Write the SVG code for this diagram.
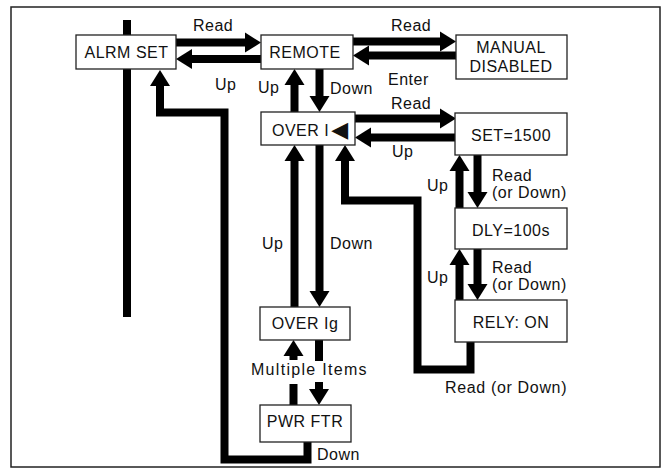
<svg xmlns="http://www.w3.org/2000/svg" width="663" height="470" viewBox="0 0 663 470">
<style>
  .box { fill: #fff; stroke: #222; stroke-width: 1.3; }
  .t { font-family: "Liberation Sans", Arial, sans-serif; font-size: 16px; fill: #111; letter-spacing: 0.5px; }
  .c { text-anchor: middle; }
  .w { fill: none; stroke: #000; stroke-width: 8; stroke-linecap: butt; stroke-linejoin: miter; }
  .wa { fill: none; stroke: #000; stroke-width: 8; stroke-linecap: butt; stroke-linejoin: miter; marker-end: url(#ah); }
</style>
<defs>
  <marker id="ah" markerUnits="userSpaceOnUse" markerWidth="16" markerHeight="20" refX="0" refY="10" orient="auto" overflow="visible">
    <path d="M0,0 L16,10 L0,20 Z" fill="#000"/>
  </marker>
</defs>
<rect x="0" y="0" width="663" height="470" fill="#fff"/>
<rect x="11" y="7" width="649" height="460" fill="none" stroke="#222" stroke-width="1.5"/>

<g id="connectors">
  <line class="w" x1="127" y1="20" x2="127" y2="317"/>
  <path class="wa" d="M176,42.5 H245"/>
  <path class="wa" d="M261,59 H192"/>
  <path class="wa" d="M353,41.5 H440"/>
  <path class="wa" d="M456,55.5 H369"/>
  <path class="wa" d="M294.5,112 V85"/>
  <path class="wa" d="M319.5,69 V96"/>
  <path class="wa" d="M355,118.5 H440"/>
  <path class="wa" d="M455,137.5 H371"/>
  <path class="wa" d="M459.5,208 V171"/>
  <path class="wa" d="M477.5,155 V192"/>
  <path class="wa" d="M459.5,300 V265"/>
  <path class="wa" d="M477.5,249 V284"/>
  <path class="wa" d="M470.5,342 V369.5 H417.5 V200.5 H345 V161"/>
  <path class="wa" d="M294.5,307 V161"/>
  <path class="wa" d="M319.5,145 V291"/>
  <path class="w" d="M293.5,405 V384"/>
  <path class="wa" d="M293.5,360 V356"/>
  <path class="w" d="M319,340 V361"/>
  <path class="wa" d="M319,382 V389"/>
  <path class="wa" d="M307.5,442 V459.5 H224.5 V112.5 H160 V86"/>
</g>

<g id="labels">
  <text class="t" x="193" y="31">Read</text>
  <text class="t" x="215" y="90">Up</text>
  <text class="t" x="258" y="93">Up</text>
  <text class="t" x="330" y="94">Down</text>
  <text class="t" x="391" y="31">Read</text>
  <text class="t" x="388" y="85">Enter</text>
  <text class="t" x="391" y="109">Read</text>
  <text class="t" x="392" y="157">Up</text>
  <text class="t" x="427" y="191">Up</text>
  <text class="t" x="492" y="181">Read</text>
  <text class="t" x="492" y="198">(or Down)</text>
  <text class="t" x="427" y="283">Up</text>
  <text class="t" x="492" y="273">Read</text>
  <text class="t" x="492" y="290">(or Down)</text>
  <text class="t" x="262" y="249">Up</text>
  <text class="t" x="330" y="249">Down</text>
  <text class="t" x="251" y="375" textLength="116">Multiple Items</text>
  <text class="t" x="445" y="393" textLength="122">Read (or Down)</text>
  <text class="t" x="317" y="460">Down</text>
</g>

<g id="alrm-set">
  <rect class="box" x="76" y="35" width="100" height="34"/>
  <text class="t c" x="126.5" y="58">ALRM SET</text>
</g>
<g id="remote">
  <rect class="box" x="261" y="35" width="92" height="34"/>
  <text class="t c" x="305" y="58">REMOTE</text>
</g>
<g id="manual-disabled">
  <rect class="box" x="456" y="35" width="111" height="44"/>
  <text class="t c" x="511" y="53">MANUAL</text>
  <text class="t c" x="511" y="72">DISABLED</text>
</g>
<g id="over-i">
  <rect class="box" x="261" y="112" width="94" height="33"/>
  <text class="t" x="272" y="136">OVER I<tspan font-family="DejaVu Sans, sans-serif" font-size="22px" dx="2" dy="1">◀</tspan></text>
</g>
<g id="set-1500">
  <rect class="box" x="455" y="113" width="112" height="42"/>
  <text class="t c" x="511" y="141">SET=1500</text>
</g>
<g id="dly-100s">
  <rect class="box" x="455" y="208" width="112" height="41"/>
  <text class="t c" x="511" y="236">DLY=100s</text>
</g>
<g id="rely-on">
  <rect class="box" x="455" y="300" width="112" height="42"/>
  <text class="t c" x="511" y="328">RELY: ON</text>
</g>
<g id="over-ig">
  <rect class="box" x="260" y="307" width="90" height="33"/>
  <text class="t c" x="305" y="329">OVER Ig</text>
</g>
<g id="pwr-ftr">
  <rect class="box" x="260" y="405" width="91" height="37"/>
  <text class="t c" x="305" y="427">PWR FTR</text>
</g>
</svg>
